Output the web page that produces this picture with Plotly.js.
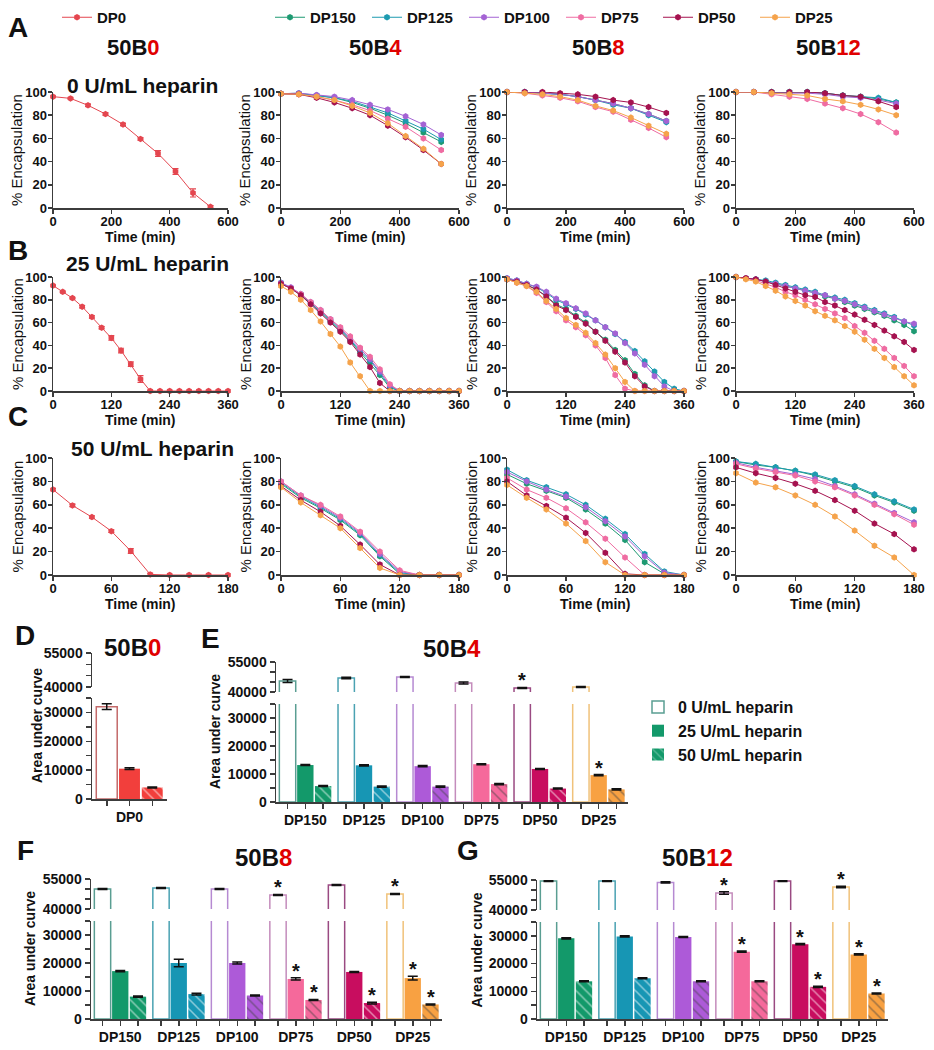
<!DOCTYPE html>
<html><head><meta charset="utf-8">
<script src="https://cdn.plot.ly/plotly-3.0.1.min.js"></script>
<style>body{margin:0;background:#fff}</style>
</head><body><div id="chart" style="width:934px;height:1050px"></div>
<script>
// ---------------- DATA ----------------
const tA = [0,60,120,180,240,300,360,420,480,540];
const tB = [0,20,40,60,80,100,120,140,160,180,200,220,240,260,280,300,320,340,360];
const tC = [0,20,40,60,80,100,120,140,160,180];

// Row A : 0 U/mL heparin
const a_b0_dp0 = [96,94.5,88.5,81,72,59.5,47,31.5,13,1];
const a_b0_dp0_err = [0.5,0.5,1,1,1,1,2.5,2.5,3.5,1];
const a_b4_dp150 = [98.5,98.5,97,95,91,86,80,73,65,57];
const a_b4_dp125 = [98.5,99,97,95,92,87,82,75,68,59];
const a_b4_dp100 = [98.5,99,97.5,96,93,89,85,79,72,63];
const a_b4_dp75  = [98.5,98,96,93,89,84,77,70,60,50];
const a_b4_dp50  = [98.5,98,95,91,86,80,71,61,50,38];
const a_b4_dp25  = [98.5,98,96,93,88,82,73,62,51,38];
const a_b8_dp150 = [100,100,99,98,96,93,90,86,81,75];
const a_b8_dp125 = [100,100,99,98,96,93,89,86,80,74];
const a_b8_dp100 = [100,100,99,98,96,93,90,86,81,75];
const a_b8_dp75  = [100,99,97,95,92,87,83,76,69,61];
const a_b8_dp50  = [100,100,100,99,98,96,93,91,87,82];
const a_b8_dp25  = [100,99,98,96,93,88,84,78,71,64];
const a_b12_dp150 = [100,100,100,100,100,99,97,96,94,91];
const a_b12_dp125 = [100,100,100,100,100,99,97,96,95,91];
const a_b12_dp100 = [100,100,99,99,99,98,96,95,93,90];
const a_b12_dp75  = [100,100,98,96,94,90,86,81,74,65];
const a_b12_dp50  = [100,100,100,100,100,99,97,96,92,87];
const a_b12_dp25  = [100,100,99,98,97,94,92,89,85,80];

// Row B : 25 U/mL heparin
const b_b0_dp0 = [92.5,87,81.5,74,65,55.5,46.5,35.5,23.5,10.5,0,0,0,0,0,0,0,0,0];
const b_b0_dp0_err = [0.5,0.5,0.5,1,1,1,2,2,2,3,0.5,0,0,0,0,0,0,0,0];
const b_b4_dp150 = [94,90,84,77,69,61,53,44,34,25,14,3,0,0,0,0,0,0,0];
const b_b4_dp125 = [95,90,85,77,70,62,54,45,35,27,16,4,0,0,0,0,0,0,0];
const b_b4_dp100 = [95,91,85,78,71,63,55,46,37,28,17,5,0,0,0,0,0,0,0];
const b_b4_dp75  = [94,90,85,78,71,63,56,48,38,30,19,6,0,0,0,0,0,0,0];
const b_b4_dp50  = [94,90,84,76,68,60,52,43,32,21,7,0,0,0,0,0,0,0,0];
const b_b4_dp25  = [92,87,80,71,61,50,39,25,13,0,0,0,0,0,0,0,0,0,0];
const b_b8_dp150 = [98,96,93,89,83,76,72,66,60,52,45,36,27,15,5,0,0,0,0];
const b_b8_dp125 = [99,97,94,91,86,80,76,72,67,62,56,50,43,35,26,17,8,2,0];
const b_b8_dp100 = [99,97,94,91.5,87,81,77,72.5,68,62,56,50.5,42,33,23,13,4,0,0];
const b_b8_dp75  = [98,95,92,86,78,70,62,56,49,40,29,14,2,0,0,0,0,0,0];
const b_b8_dp50  = [98,96,93,89,83,75,71,65,59,52,44,34.5,25,13,4,0,0,0,0];
const b_b8_dp25  = [98,95,92,87,79,72,64,58,51,42,32,20,8,0,0,0,0,0,0];
const b_b12_dp150 = [100,99,98,96,94,92,90,88,86,83,81,78,75,72,69,66,62,58,52.5];
const b_b12_dp125 = [100,99,98,97,95,93,91,89,87,84,82,80,77,74,71,68,65,61,57.5];
const b_b12_dp100 = [100,99,98,96,94,92,90,88,86,84,81,79,76,73,70,67,64,61,59];
const b_b12_dp75  = [100,99,97,94,91,87,84,80,76,72,68,64,57,51,44,37,29,22,13];
const b_b12_dp50  = [100,99,98,96,93,90,87,84,82.5,78,75,71,67,62.5,58,53,48,43,36];
const b_b12_dp25  = [100,98,96,92,88,83,79,75,70,66,62,57,52,45,37,29,21,13,5];

// Row C : 50 U/mL heparin
const c_b0_dp0 = [73,59.5,49.5,37.5,20.5,0.5,0,0,0,0];
const c_b0_dp0_err = [1,1,1,1,2,1,0,0,0,0];
const c_b4_dp150 = [78,66,57,47,34,16,1,0,0,0];
const c_b4_dp125 = [79,67,58,48,35,17,2,0,0,0];
const c_b4_dp100 = [80,68,59,49,36,18,3,0,0,0];
const c_b4_dp75  = [80,68,60,50,37,20,4,0,0,0];
const c_b4_dp50  = [76,64,54,42,26,9,0,0,0,0];
const c_b4_dp25  = [75,62,51,40,23,6,0,0,0,0];
const c_b8_dp150 = [86,78,72,66,56,44,30,11,1,0];
const c_b8_dp125 = [90,81,75,69,60,48,35,18,3,0];
const c_b8_dp100 = [88,80,73,67,58,46,33,16,2,0];
const c_b8_dp75  = [83,73,66,57,45,31,15,0,0,0];
const c_b8_dp50  = [80,68,59,49,36,19,1,0,0,0];
const c_b8_dp25  = [77,66,56,44,29,11,0,0,0,0];
const c_b12_dp150 = [97,94,92,89,85,80,75,68,62,55];
const c_b12_dp125 = [97,95,92,89,86,81,76,69,63,56];
const c_b12_dp100 = [96,92,89,86,82,76,69,61,53,45];
const c_b12_dp75  = [95,91,88,85,80,75,68,60,52,43];
const c_b12_dp50  = [92,87,83,78,72,64,55,44,35,22];
const c_b12_dp25  = [87,79,75,68,60,50,38,25,15,0];

// Bar charts: area under curve
const catsD = ['DP0'];
const cats = ['DP150','DP125','DP100','DP75','DP50','DP25'];
const d_h0 = [32000],  d_h0_err = [1000];
const d_h25 = [10500], d_h25_err = [300];
const d_h50 = [4000],  d_h50_err = [200];
const d_sig0 = [0], d_sig25 = [0], d_sig50 = [0];

const e_h0  = [45500,47000,47500,44500,42000,42500];
const e_h0_err  = [800,400,300,500,300,300];
const e_h25 = [13200,13100,12800,13500,11800,9600];
const e_h25_err = [200,200,200,200,200,200];
const e_h50 = [5700,5500,5500,6400,4800,4500];
const e_h50_err = [200,200,200,200,200,200];
const e_sig0 = [0,0,0,0,1,0], e_sig25 = [0,0,0,0,0,1], e_sig50 = [0,0,0,0,0,0];

const f_h0  = [50000,50500,50000,47000,52000,47500];
const f_h0_err  = [200,200,200,300,300,300];
const f_h25 = [17100,20000,20000,14300,16800,14600];
const f_h25_err = [200,1300,400,400,200,700];
const f_h50 = [8000,8900,8400,6800,5700,5200];
const f_h50_err = [200,300,200,200,300,200];
const f_sig0 = [0,0,0,1,0,1], f_sig25 = [0,0,0,1,0,1], f_sig50 = [0,0,0,1,1,1];

const g_h0  = [54500,54500,53800,48500,54500,51500];
const g_h0_err  = [200,200,300,600,200,400];
const g_h25 = [29100,29800,29600,24300,27000,23300];
const g_h25_err = [200,200,200,200,200,200];
const g_h50 = [13600,14700,13600,13600,11600,9200];
const g_h50_err = [200,200,200,200,200,200];
const g_sig0 = [0,0,0,1,0,1], g_sig25 = [0,0,0,1,1,1], g_sig50 = [0,0,0,0,1,1];

const yTicksLine = [0,20,40,60,80,100];
const xTicksA = [0,200,400,600], xTicksB = [0,120,240,360], xTicksC = [0,60,120,180];
const lowTicks = [0,5000,10000,15000,20000,25000,30000,35000];
const lowTickText = ['0','','10000','','20000','','30000',''];
const upTicks = [40000,45000,50000,55000];
const upTickText = ['40000','','','55000'];

// ---------------- STYLE ----------------
const W = 934, H = 1050;
const X = p => p / W, Y = p => 1 - p / H;
const FONT = 'Arial, "Liberation Sans", sans-serif';
const AX = '#3c3c3c';
const TXT = '#111';
const lineColor = {DP0:'#e4464f', DP150:'#1e9a72', DP125:'#1d9bb0', DP100:'#a463d4', DP75:'#ef6ca2', DP50:'#a5124f', DP25:'#f5a34b'};
const barColor = {DP0:'#f23f3c', DP150:'#13996a', DP125:'#1796b4', DP100:'#ad5ad8', DP75:'#f5699b', DP50:'#c80d5f', DP25:'#f8a142'};
const edgeColor = {DP0:'#c46a6a', DP150:'#5a9e92', DP125:'#4aa2b2', DP100:'#b68ad2', DP75:'#c48cbc', DP50:'#9a4a82', DP25:'#f0c27a'};

const colX = [[53,228],[281,459],[507,684],[736,914]];
const rowY = [[92,208],[277,391],[458,575]];
const rowT = [tA, tB, tC];
const rowRange = [[0,600],[0,360],[0,180]];
const rowTicks = [xTicksA, xTicksB, xTicksC];

const panels = [
  [
    [['DP0', a_b0_dp0, a_b0_dp0_err]],
    [['DP150',a_b4_dp150],['DP125',a_b4_dp125],['DP100',a_b4_dp100],['DP75',a_b4_dp75],['DP50',a_b4_dp50],['DP25',a_b4_dp25]],
    [['DP150',a_b8_dp150],['DP125',a_b8_dp125],['DP100',a_b8_dp100],['DP75',a_b8_dp75],['DP50',a_b8_dp50],['DP25',a_b8_dp25]],
    [['DP150',a_b12_dp150],['DP125',a_b12_dp125],['DP100',a_b12_dp100],['DP75',a_b12_dp75],['DP50',a_b12_dp50],['DP25',a_b12_dp25]]
  ],
  [
    [['DP0', b_b0_dp0, b_b0_dp0_err]],
    [['DP150',b_b4_dp150],['DP125',b_b4_dp125],['DP100',b_b4_dp100],['DP75',b_b4_dp75],['DP50',b_b4_dp50],['DP25',b_b4_dp25]],
    [['DP150',b_b8_dp150],['DP125',b_b8_dp125],['DP100',b_b8_dp100],['DP75',b_b8_dp75],['DP50',b_b8_dp50],['DP25',b_b8_dp25]],
    [['DP150',b_b12_dp150],['DP125',b_b12_dp125],['DP100',b_b12_dp100],['DP75',b_b12_dp75],['DP50',b_b12_dp50],['DP25',b_b12_dp25]]
  ],
  [
    [['DP0', c_b0_dp0, c_b0_dp0_err]],
    [['DP150',c_b4_dp150],['DP125',c_b4_dp125],['DP100',c_b4_dp100],['DP75',c_b4_dp75],['DP50',c_b4_dp50],['DP25',c_b4_dp25]],
    [['DP150',c_b8_dp150],['DP125',c_b8_dp125],['DP100',c_b8_dp100],['DP75',c_b8_dp75],['DP50',c_b8_dp50],['DP25',c_b8_dp25]],
    [['DP150',c_b12_dp150],['DP125',c_b12_dp125],['DP100',c_b12_dp100],['DP75',c_b12_dp75],['DP50',c_b12_dp50],['DP25',c_b12_dp25]]
  ]
];

const axName = (a, k) => k === 1 ? a + 'axis' : a + 'axis' + k;
const axId = (a, k) => k === 1 ? a : a + k;

const traces = [];
const annotations = [];
const layout = {
  width: W, height: H,
  margin: {l:0, r:0, t:0, b:0},
  paper_bgcolor: '#fff', plot_bgcolor: 'rgba(0,0,0,0)',
  font: {family: FONT, color: TXT},
  barmode: 'group', bargap: 0.09, bargroupgap: 0.08,
  showlegend: true,
  legend:  {x: X(57), y: Y(1), xanchor:'left', yanchor:'top', orientation:'h', font:{size:15, weight:'bold', color:TXT}, bgcolor:'rgba(0,0,0,0)'},
  legend2: {x: X(270), y: Y(1), xanchor:'left', yanchor:'top', orientation:'h', entrywidth: 52, entrywidthmode:'pixels', font:{size:15, weight:'bold', color:TXT}, bgcolor:'rgba(0,0,0,0)'},
  legend3: {x: X(638), y: Y(690), xanchor:'left', yanchor:'top', orientation:'v', font:{size:16, weight:'bold', color:TXT}, bgcolor:'rgba(0,0,0,0)', tracegroupgap: 2},
  annotations: annotations
};

const axisBase = {
  showline: true, linecolor: AX, linewidth: 1.5, ticks: 'outside', ticklen: 4, tickwidth: 1.5, tickcolor: AX,
  showgrid: false, zeroline: false, fixedrange: true, tickfont: {size: 13, weight: 'bold', color: TXT}
};

// ---- line panels ----
for (let r = 0; r < 3; r++) {
  for (let c = 0; c < 4; c++) {
    const k = r * 4 + c + 1;
    layout[axName('x', k)] = Object.assign({}, axisBase, {
      domain: [X(colX[c][0]), X(colX[c][1])], range: rowRange[r], anchor: axId('y', k),
      tickmode: 'array', tickvals: rowTicks[r], ticklabelstandoff: -3
    });
    layout[axName('y', k)] = Object.assign({}, axisBase, {
      domain: [Y(rowY[r][1]), Y(rowY[r][0])], range: [0, 100], anchor: axId('x', k),
      tickmode: 'array', tickvals: yTicksLine, ticklabelstandoff: -2
    });
    panels[r][c].forEach(s => {
      const [name, vals, err] = s;
      const tr = {
        type: 'scatter', mode: 'lines+markers', name: name,
        x: rowT[r], y: vals, xaxis: axId('x', k), yaxis: axId('y', k),
        line: {color: lineColor[name], width: 1},
        marker: {symbol: 'hexagon', size: 6.5, color: lineColor[name]},
        cliponaxis: false,
        showlegend: (k === 1 || k === 2),
        legend: k === 1 ? 'legend' : 'legend2'
      };
      if (err) tr.error_y = {type: 'data', array: err, color: lineColor[name], thickness: 1.2, width: 3};
      traces.push(tr);
    });
    annotations.push({text: '% Encapsulation', xref: 'paper', yref: 'paper',
      x: X(colX[c][0] - 36), y: Y((rowY[r][0] + rowY[r][1]) / 2), textangle: -90,
      showarrow: false, font: {size: 15, color: TXT}, xanchor: 'center', yanchor: 'middle'});
    annotations.push({text: '<b>Time (min)</b>', xref: 'paper', yref: 'paper',
      x: X((colX[c][0] + colX[c][1]) / 2), y: Y(rowY[r][1] + 29), showarrow: false,
      font: {size: 14, color: TXT}, xanchor: 'center', yanchor: 'middle'});
  }
}

// ---- bar panels ----
const slot = (1 - layout.bargap) / 3;
const barPanels = [
  {xi: 13, yl: 13, yu: 14, xd: [92,167], low: [698,799], up: [653,687], cats: catsD,
   h: [d_h0, d_h25, d_h50], err: [d_h0_err, d_h25_err, d_h50_err], sig: [d_sig0, d_sig25, d_sig50], legend: false},
  {xi: 14, yl: 15, yu: 16, xd: [276,628], low: [704,802], up: [662,692], cats: cats,
   h: [e_h0, e_h25, e_h50], err: [e_h0_err, e_h25_err, e_h50_err], sig: [e_sig0, e_sig25, e_sig50], legend: true},
  {xi: 15, yl: 17, yu: 18, xd: [91,442], low: [921,1019], up: [879,909], cats: cats,
   h: [f_h0, f_h25, f_h50], err: [f_h0_err, f_h25_err, f_h50_err], sig: [f_sig0, f_sig25, f_sig50], legend: false},
  {xi: 16, yl: 19, yu: 20, xd: [537,888], low: [922,1019], up: [880,910], cats: cats,
   h: [g_h0, g_h25, g_h50], err: [g_h0_err, g_h25_err, g_h50_err], sig: [g_sig0, g_sig25, g_sig50], legend: false}
];
const levelNames = ['0 U/mL heparin', '25 U/mL heparin', '50 U/mL heparin'];

barPanels.forEach(p => {
  const n = p.cats.length;
  const idx = p.cats.map((c, i) => i);
  const tv = [], tt = [];
  idx.forEach(i => { tv.push(i - slot, i, i + slot); tt.push('', p.cats[i], ''); });
  layout[axName('x', p.xi)] = Object.assign({}, axisBase, {
    domain: [X(p.xd[0]), X(p.xd[1])], range: [-0.5, n - 0.5], anchor: axId('y', p.yl),
    tickmode: 'array', tickvals: tv, ticktext: tt, ticklen: 5, tickfont: {size: 14, weight: 'bold', color: TXT}
  });
  layout[axName('y', p.yl)] = Object.assign({}, axisBase, {
    domain: [Y(p.low[1]), Y(p.low[0])], range: [0, 35000], anchor: axId('x', p.xi),
    tickmode: 'array', tickvals: lowTicks, ticktext: lowTickText, ticklen: 5, tickfont: {size: 14, weight: 'bold', color: TXT}
  });
  layout[axName('y', p.yu)] = Object.assign({}, axisBase, {
    domain: [Y(p.up[1]), Y(p.up[0])], range: [40000, 55000], anchor: axId('x', p.xi),
    tickmode: 'array', tickvals: upTicks, ticktext: upTickText, ticklen: 5, tickfont: {size: 14, weight: 'bold', color: TXT}
  });
  const cols = p.cats.map(c => barColor[c]);
  const edges = p.cats.map(c => edgeColor[c]);
  [p.yl, p.yu].forEach((ya, half) => {
    for (let j = 0; j < 3; j++) {
      let marker;
      if (j === 0) marker = {color: '#ffffff', line: {color: edges, width: 1.5}};
      else if (j === 1) marker = {color: cols, line: {width: 0}};
      else marker = {color: cols, line: {width: 0},
        pattern: {shape: '\\', fillmode: 'overlay', fgcolor: 'rgba(255,255,255,0.6)', size: 7, solidity: 0.22}};
      traces.push({
        type: 'bar', name: levelNames[j], x: idx, y: p.h[j],
        xaxis: axId('x', p.xi), yaxis: axId('y', ya), marker: marker,
        error_y: {type: 'data', array: p.err[j], color: '#111', thickness: 1.5, width: 5},
        showlegend: p.legend && half === 0, legend: 'legend3'
      });
    }
  });
  for (let j = 0; j < 3; j++) {
    p.sig[j].forEach((s, i) => {
      if (!s) return;
      annotations.push({text: '<b>*</b>', x: i + (j - 1) * slot, y: p.h[j][i] + p.err[j][i],
        xref: axId('x', p.xi), yref: axId('y', j === 0 ? p.yu : p.yl),
        showarrow: false, yanchor: 'bottom', yshift: -6, font: {size: 20, color: TXT}});
    });
  }
  annotations.push({text: '<b>Area under curve</b>', xref: 'paper', yref: 'paper',
    x: X(p.xd[0] - (p.xi === 13 ? 55 : 61)), y: Y((p.up[0] + p.low[1]) / 2), textangle: -90, showarrow: false,
    font: {size: 14, color: TXT}, xanchor: 'center', yanchor: 'middle'});
});

// ---- headings ----
const red = s => '<span style="color:#e00000">' + s + '</span>';
const head = (t, x, y, size) => annotations.push({text: t, xref: 'paper', yref: 'paper', x: X(x), y: Y(y),
  showarrow: false, xanchor: 'center', yanchor: 'middle', font: {size: size, color: TXT}});
head('<b>50B' + red('0') + '</b>', 133, 48, 22);
head('<b>50B' + red('4') + '</b>', 375, 48, 22);
head('<b>50B' + red('8') + '</b>', 598, 48, 22);
head('<b>50B' + red('12') + '</b>', 828, 48, 22);
head('<b>0 U/mL heparin</b>', 142, 85, 21);
head('<b>25 U/mL heparin</b>', 147, 263, 21);
head('<b>50 U/mL heparin</b>', 152, 448, 21);
head('<b>50B' + red('0') + '</b>', 132, 647, 24);
head('<b>50B' + red('4') + '</b>', 452, 648, 24);
head('<b>50B' + red('8') + '</b>', 263, 857, 24);
head('<b>50B' + red('12') + '</b>', 697, 857, 24);
[['A',18,28],['B',18,250],['C',18,416],['D',25,635],['E',210,638],['F',25,850],['G',468,850]]
  .forEach(l => head('<b>' + l[0] + '</b>', l[1], l[2], 28));

Plotly.newPlot('chart', traces, layout, {displayModeBar: false, staticPlot: true});
</script></body></html>
